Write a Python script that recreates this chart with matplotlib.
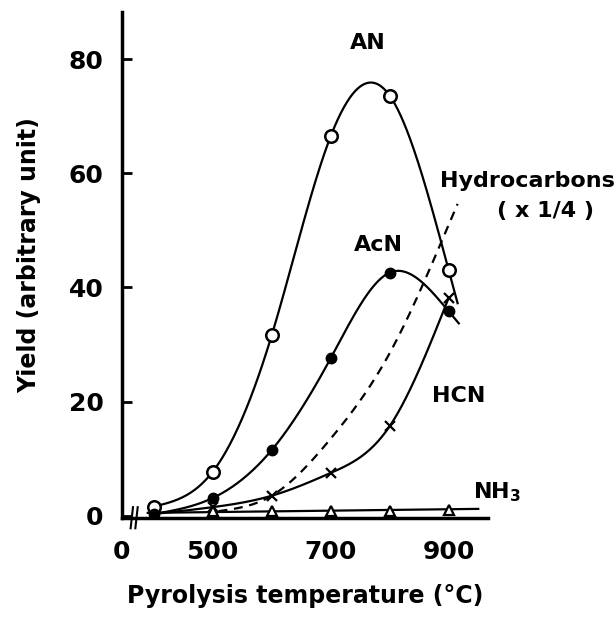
import numpy as np
import matplotlib
matplotlib.use("Agg")
import matplotlib.pyplot as plt

plt.rcParams["font.family"] = ["DejaVu Sans"]
plt.rcParams["font.weight"] = "bold"
plt.rcParams["axes.labelweight"] = "bold"
plt.rcParams["mathtext.default"] = "bf"

temps = [400, 500, 600, 700, 800, 900]
an = [1.6, 7.7, 31.6, 66.5, 73.6, 43]
acn = [0.3, 3.1, 11.5, 27.6, 42.6, 35.8]
hcn = [0.3, 1.5, 3.5, 7.5, 15.7, 38.2]
hydro_temps = [510, 600, 700, 800, 900]
hydrocarbons = [0.8, 3.5, 13.5, 28.5, 51]
nh3 = [0.5, 0.8, 0.8, 0.8, 0.8, 1.0]

x_ticks = [346, 500, 700, 900]
x_labels = ["0", "500", "700", "900"]
y_ticks = [0, 20, 40, 60, 80]


def spline(xs, ys, x_end):
    # natural cubic spline, just for drawing smooth curves through the points
    xs = np.asarray(xs, float)
    ys = np.asarray(ys, float)
    n = len(xs)
    h = np.diff(xs)
    A = np.zeros((n, n))
    b = np.zeros(n)
    A[0, 0] = A[-1, -1] = 1
    for i in range(1, n - 1):
        A[i, i - 1] = h[i - 1]
        A[i, i] = 2 * (h[i - 1] + h[i])
        A[i, i + 1] = h[i]
        b[i] = 6 * ((ys[i + 1] - ys[i]) / h[i] - (ys[i] - ys[i - 1]) / h[i - 1])
    M = np.linalg.solve(A, b)
    xx = np.linspace(xs[0], x_end, 300)
    yy = np.empty_like(xx)
    for k, x in enumerate(xx):
        i = min(np.searchsorted(xs, x) - 1, n - 2)
        i = max(i, 0)
        t1 = xs[i + 1] - x
        t0 = x - xs[i]
        yy[k] = (M[i] * t1**3 + M[i + 1] * t0**3) / (6 * h[i]) \
            + (ys[i] / h[i] - M[i] * h[i] / 6) * t1 \
            + (ys[i + 1] / h[i] - M[i + 1] * h[i] / 6) * t0
    return xx, yy


fig = plt.figure(figsize=(6.15, 6.2), dpi=100)
ax = fig.add_axes([0.198, 0.1645, 0.595, 0.8165])

kw = dict(color="black", lw=1.6)
ax.plot(*spline(temps, an, 915), **kw)
ax.plot(*spline(temps, acn, 917), **kw)
ax.plot(*spline(temps, hcn, 900), **kw)
ax.plot(*spline(hydro_temps, hydrocarbons, 915), color="black", lw=1.6, ls=(0, (4, 3)))
ax.plot([390, 950], [nh3[0], 1.2], **kw)

ax.plot(temps, an, "o", ms=9, mfc="white", mec="black", mew=1.8)
ax.plot(temps, acn, "o", ms=7.5, mfc="black", mec="black")
ax.plot(temps[1:], hcn[1:], "x", ms=7, mec="black", mew=1.6)
ax.plot(temps[1:], nh3[1:], "^", ms=7.5, mfc="white", mec="black", mew=1.6)

ax.set_xlim(346, 966)
ax.set_ylim(-0.4, 88.3)
ax.set_xticks(x_ticks, x_labels)
ax.set_yticks(y_ticks)
for s in ["top", "right"]:
    ax.spines[s].set_visible(False)
for s in ["left", "bottom"]:
    ax.spines[s].set_linewidth(2.5)
ax.tick_params(axis="y", direction="in", length=7, width=2, labelsize=18, pad=13)
ax.tick_params(axis="x", length=0, labelsize=18, pad=16)

# break marks on the x axis
for xb in [363, 371]:
    ax.plot([xb - 2, xb + 2], [-2.2, 1.5], color="black", lw=1.5, clip_on=False)

fs = 16
ax.text(763, 82.8, "AN", fontsize=fs, ha="center", va="center")
ax.text(781, 47.5, "AcN", fontsize=fs, ha="center", va="center")
ax.text(871, 20.9, "HCN", fontsize=fs, va="center")
ax.text(1034, 58.6, "Hydrocarbons", fontsize=fs, ha="center", va="center")
ax.text(1064, 53.4, "( x 1/4 )", fontsize=fs, ha="center", va="center")
ax.text(941, 4.2, "NH$_3$", fontsize=fs, va="center")

ax.set_ylabel("Yield (arbitrary unit)", fontsize=17)
ax.yaxis.set_label_coords(-0.219, 0.52)
ax.set_xlabel("Pyrolysis temperature (°C)", fontsize=17, labelpad=14)

fig.savefig("out.png", dpi=100)
